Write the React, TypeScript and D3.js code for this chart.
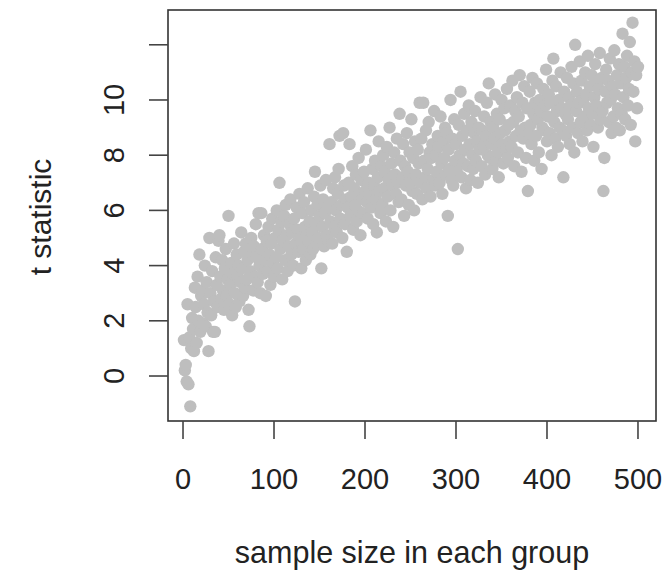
import React, { useEffect, useRef } from 'react';
import * as d3 from 'd3';

// sample size in each group (x) and the t statistic (y), one point per n
const sampleSizes = [
  1, 2, 3, 4, 5, 6, 7, 8, 9, 10, 11, 12, 13, 14, 15, 16, 17, 18, 19, 20,
  21, 22, 23, 24, 25, 26, 27, 28, 29, 30, 31, 32, 33, 34, 35, 36, 37, 38, 39, 40,
  41, 42, 43, 44, 45, 46, 47, 48, 49, 50, 51, 52, 53, 54, 55, 56, 57, 58, 59, 60,
  61, 62, 63, 64, 65, 66, 67, 68, 69, 70, 71, 72, 73, 74, 75, 76, 77, 78, 79, 80,
  81, 82, 83, 84, 85, 86, 87, 88, 89, 90, 91, 92, 93, 94, 95, 96, 97, 98, 99, 100,
  101, 102, 103, 104, 105, 106, 107, 108, 109, 110, 111, 112, 113, 114, 115, 116, 117, 118, 119, 120,
  121, 122, 123, 124, 125, 126, 127, 128, 129, 130, 131, 132, 133, 134, 135, 136, 137, 138, 139, 140,
  141, 142, 143, 144, 145, 146, 147, 148, 149, 150, 151, 152, 153, 154, 155, 156, 157, 158, 159, 160,
  161, 162, 163, 164, 165, 166, 167, 168, 169, 170, 171, 172, 173, 174, 175, 176, 177, 178, 179, 180,
  181, 182, 183, 184, 185, 186, 187, 188, 189, 190, 191, 192, 193, 194, 195, 196, 197, 198, 199, 200,
  201, 202, 203, 204, 205, 206, 207, 208, 209, 210, 211, 212, 213, 214, 215, 216, 217, 218, 219, 220,
  221, 222, 223, 224, 225, 226, 227, 228, 229, 230, 231, 232, 233, 234, 235, 236, 237, 238, 239, 240,
  241, 242, 243, 244, 245, 246, 247, 248, 249, 250, 251, 252, 253, 254, 255, 256, 257, 258, 259, 260,
  261, 262, 263, 264, 265, 266, 267, 268, 269, 270, 271, 272, 273, 274, 275, 276, 277, 278, 279, 280,
  281, 282, 283, 284, 285, 286, 287, 288, 289, 290, 291, 292, 293, 294, 295, 296, 297, 298, 299, 300,
  301, 302, 303, 304, 305, 306, 307, 308, 309, 310, 311, 312, 313, 314, 315, 316, 317, 318, 319, 320,
  321, 322, 323, 324, 325, 326, 327, 328, 329, 330, 331, 332, 333, 334, 335, 336, 337, 338, 339, 340,
  341, 342, 343, 344, 345, 346, 347, 348, 349, 350, 351, 352, 353, 354, 355, 356, 357, 358, 359, 360,
  361, 362, 363, 364, 365, 366, 367, 368, 369, 370, 371, 372, 373, 374, 375, 376, 377, 378, 379, 380,
  381, 382, 383, 384, 385, 386, 387, 388, 389, 390, 391, 392, 393, 394, 395, 396, 397, 398, 399, 400,
  401, 402, 403, 404, 405, 406, 407, 408, 409, 410, 411, 412, 413, 414, 415, 416, 417, 418, 419, 420,
  421, 422, 423, 424, 425, 426, 427, 428, 429, 430, 431, 432, 433, 434, 435, 436, 437, 438, 439, 440,
  441, 442, 443, 444, 445, 446, 447, 448, 449, 450, 451, 452, 453, 454, 455, 456, 457, 458, 459, 460,
  461, 462, 463, 464, 465, 466, 467, 468, 469, 470, 471, 472, 473, 474, 475, 476, 477, 478, 479, 480,
  481, 482, 483, 484, 485, 486, 487, 488, 489, 490, 491, 492, 493, 494, 495, 496, 497, 498, 499, 500,
];

const tStats = [
  1.3, 0.2, 0.4, -0.2, 2.6, -0.3, 1.4, -1.1, 1.0, 2.1, 1.7, 0.9, 3.2, 2.5, 1.2, 3.6, 2.0, 4.4, 1.6, 2.9,
  3.1, 1.9, 2.6, 4.0, 1.8, 3.4, 2.3, 0.9, 5.0, 3.0, 2.2, 3.8, 1.6, 2.7, 1.6, 4.3, 3.3, 2.5, 4.9, 5.1,
  3.6, 2.8, 4.2, 3.1, 2.4, 3.9, 4.6, 2.9, 3.5, 5.8, 2.6, 3.3, 4.1, 2.2, 3.7, 4.8, 3.0, 2.5, 4.4, 3.6,
  4.0, 2.7, 3.4, 5.2, 3.9, 2.9, 4.5, 3.2, 4.8, 3.5, 4.2, 2.4, 1.8, 3.8, 5.0, 4.4, 3.1, 4.7, 3.6, 5.5,
  4.3, 3.4, 5.9, 4.0, 3.0, 5.9, 4.6, 3.7, 5.1, 4.2, 2.9, 4.9, 3.8, 5.4, 4.4, 3.3, 4.8, 5.7, 4.1, 3.6,
  5.0, 4.3, 6.0, 3.9, 5.3, 7.0, 4.6, 5.6, 3.5, 4.9, 5.8, 4.2, 6.2, 5.1, 3.8, 4.7, 5.5, 6.4, 4.4, 5.2,
  4.0, 5.7, 2.7, 4.8, 6.1, 5.3, 4.5, 6.6, 5.0, 3.9, 5.9, 4.6, 6.3, 5.4, 4.2, 5.1, 6.8, 4.9, 5.6, 4.4,
  6.0, 5.2, 4.6, 6.5, 7.4, 5.5, 4.8, 6.2, 5.0, 5.8, 6.9, 3.9, 5.4, 6.4, 4.7, 5.9, 7.1, 5.1, 6.1, 4.9,
  8.4, 5.6, 6.3, 4.8, 6.8, 5.4, 7.2, 6.0, 5.2, 6.6, 7.5, 8.7, 5.7, 6.2, 5.0, 8.8, 6.9, 5.5, 6.4, 4.5,
  6.1, 7.0, 8.4, 5.8, 6.5, 7.6, 5.3, 6.8, 6.2, 7.3, 5.6, 6.0, 7.9, 6.6, 5.1, 7.1, 6.4, 5.9, 7.4, 6.7,
  8.2, 6.3, 5.7, 7.0, 6.6, 8.9, 6.1, 7.5, 5.5, 6.9, 7.8, 6.4, 5.2, 7.2, 8.5, 6.7, 5.9, 7.6, 6.2, 8.0,
  6.8, 7.4, 5.6, 8.3, 6.5, 7.1, 9.0, 6.0, 7.7, 6.9, 5.4, 8.1, 7.3, 6.6, 8.6, 7.0, 6.3, 9.5, 7.8, 6.4,
  7.2, 8.4, 5.8, 7.6, 6.9, 8.8, 7.4, 6.2, 8.1, 7.0, 9.3, 6.7, 7.9, 6.0, 8.5, 7.3, 6.6, 8.2, 7.7, 9.9,
  7.0, 8.6, 6.4, 9.9, 7.8, 7.2, 8.9, 6.8, 7.5, 9.2, 8.1, 6.5, 7.9, 8.4, 7.1, 9.6, 6.9, 8.0, 7.4, 8.7,
  8.3, 7.0, 9.4, 7.7, 6.6, 8.5, 7.9, 9.0, 7.3, 8.8, 5.8, 8.2, 7.5, 10.0, 7.1, 8.6, 6.9, 9.3, 7.8, 8.4,
  7.4, 4.6, 9.1, 8.0, 10.3, 7.2, 8.7, 7.7, 9.5, 8.2, 6.8, 8.9, 7.6, 9.8, 8.4, 7.1, 9.2, 8.0, 7.5, 8.8,
  9.6, 7.8, 8.5, 7.0, 9.0, 8.2, 10.1, 7.6, 8.9, 8.3, 9.4, 7.3, 8.7, 9.9, 8.0, 10.6, 7.9, 9.2, 8.4, 7.5,
  9.0, 8.6, 10.2, 7.8, 9.5, 8.1, 7.2, 9.3, 8.8, 10.0, 8.4, 7.7, 9.7, 8.9, 8.2, 10.4, 7.9, 9.1, 8.5, 9.8,
  8.3, 10.7, 9.2, 7.6, 9.6, 8.7, 10.1, 8.1, 9.4, 10.9, 8.9, 7.4, 9.9, 8.6, 10.5, 9.0, 7.9, 9.7, 6.7, 8.8,
  10.3, 9.1, 8.4, 10.8, 9.5, 7.8, 9.9, 8.7, 10.6, 9.3, 8.1, 10.0, 9.6, 7.5, 9.0, 10.4, 8.9, 9.8, 11.1, 8.5,
  9.4, 10.2, 8.8, 9.9, 8.0, 10.7, 11.5, 9.2, 8.6, 10.5, 9.6, 8.3, 10.0, 9.0, 11.0, 9.7, 8.9, 7.2, 10.3, 9.5,
  8.7, 10.8, 9.3, 10.1, 8.4, 9.8, 11.2, 9.0, 10.6, 8.1, 12.0, 9.6, 10.3, 8.8, 9.9, 11.4, 9.2, 10.7, 8.5, 10.0,
  9.4, 11.0, 10.2, 8.9, 11.6, 9.7, 10.5, 9.1, 10.9, 9.5, 8.3, 10.1, 11.3, 9.8, 10.6, 9.0, 10.4, 11.7, 9.3, 10.8,
  9.6, 6.7, 7.9, 10.3, 11.1, 9.9, 10.7, 9.2, 11.5, 10.0, 8.8, 10.5, 9.4, 11.8, 10.2, 9.0, 10.9, 9.7, 11.3, 8.9,
  10.6, 9.5, 12.4, 10.1, 11.2, 9.3, 10.8, 11.6, 9.8, 10.4, 12.1, 9.1, 11.0, 12.8, 10.3, 11.4, 8.5, 10.9, 9.7, 11.2,
];

const xTicks = [0, 100, 200, 300, 400, 500];
const yTicks = [0, 2, 4, 6, 8, 10, 12];
const yTickLabels = ['0', '2', '4', '6', '8', '10', ''];

const xTitle = 'sample size in each group';
const yTitle = 't statistic';

export default function App() {
  const ref = useRef<SVGSVGElement>(null);

  useEffect(() => {
    const width = 671;
    const height = 572;
    const box = { left: 168, right: 656, top: 10, bottom: 421 };
    const font = '"Liberation Sans", Arial, Helvetica, sans-serif';
    const ink = '#222';

    const svg = d3.select(ref.current);
    svg.selectAll('*').remove();
    svg.attr('width', width).attr('height', height);

    const x = d3.scaleLinear().domain([-16.5, 519.8]).range([box.left, box.right]);
    const y = d3.scaleLinear().domain([-1.63, 13.26]).range([box.bottom, box.top]);

    const points = sampleSizes.map((n, i) => ({ n, t: tStats[i] }));

    svg.append('g')
      .selectAll('circle')
      .data(points)
      .join('circle')
        .attr('cx', d => x(d.n))
        .attr('cy', d => y(d.t))
        .attr('r', 6.2)
        .attr('fill', '#bebebe');

    // box around the plot region
    svg.append('rect')
      .attr('x', box.left)
      .attr('y', box.top)
      .attr('width', box.right - box.left)
      .attr('height', box.bottom - box.top)
      .attr('fill', 'none')
      .attr('stroke', '#333')
      .attr('stroke-width', 1.6);

    // x axis
    const gx = svg.append('g');
    gx.selectAll('line')
      .data(xTicks)
      .join('line')
        .attr('x1', d => x(d)).attr('x2', d => x(d))
        .attr('y1', box.bottom).attr('y2', box.bottom + 18)
        .attr('stroke', '#444').attr('stroke-width', 1.6);
    gx.selectAll('text')
      .data(xTicks)
      .join('text')
        .attr('x', d => x(d))
        .attr('y', 489)
        .attr('text-anchor', 'middle')
        .attr('font-family', font)
        .attr('font-size', 29)
        .attr('fill', ink)
        .text(d => String(d));

    // y axis
    const gy = svg.append('g');
    gy.selectAll('line')
      .data(yTicks)
      .join('line')
        .attr('x1', box.left - 19).attr('x2', box.left)
        .attr('y1', d => y(d)).attr('y2', d => y(d))
        .attr('stroke', '#444').attr('stroke-width', 1.6);
    gy.selectAll('text')
      .data(yTicks)
      .join('text')
        .attr('transform', d => `translate(124,${y(d)}) rotate(-90)`)
        .attr('text-anchor', 'middle')
        .attr('font-family', font)
        .attr('font-size', 29)
        .attr('fill', ink)
        .text((d, i) => yTickLabels[i]);

    // axis titles
    svg.append('text')
      .attr('x', (box.left + box.right) / 2)
      .attr('y', 563)
      .attr('text-anchor', 'middle')
      .attr('font-family', font)
      .attr('font-size', 30.5)
      .attr('fill', ink)
      .text(xTitle);

    svg.append('text')
      .attr('transform', `translate(51,${(box.top + box.bottom) / 2 + 1.5}) rotate(-90)`)
      .attr('text-anchor', 'middle')
      .attr('font-family', font)
      .attr('font-size', 30)
      .attr('fill', ink)
      .text(yTitle);
  }, []);

  return (
    <svg ref={ref} style={{ position: 'absolute', left: 0, top: 0, background: '#fff' }} />
  );
}
